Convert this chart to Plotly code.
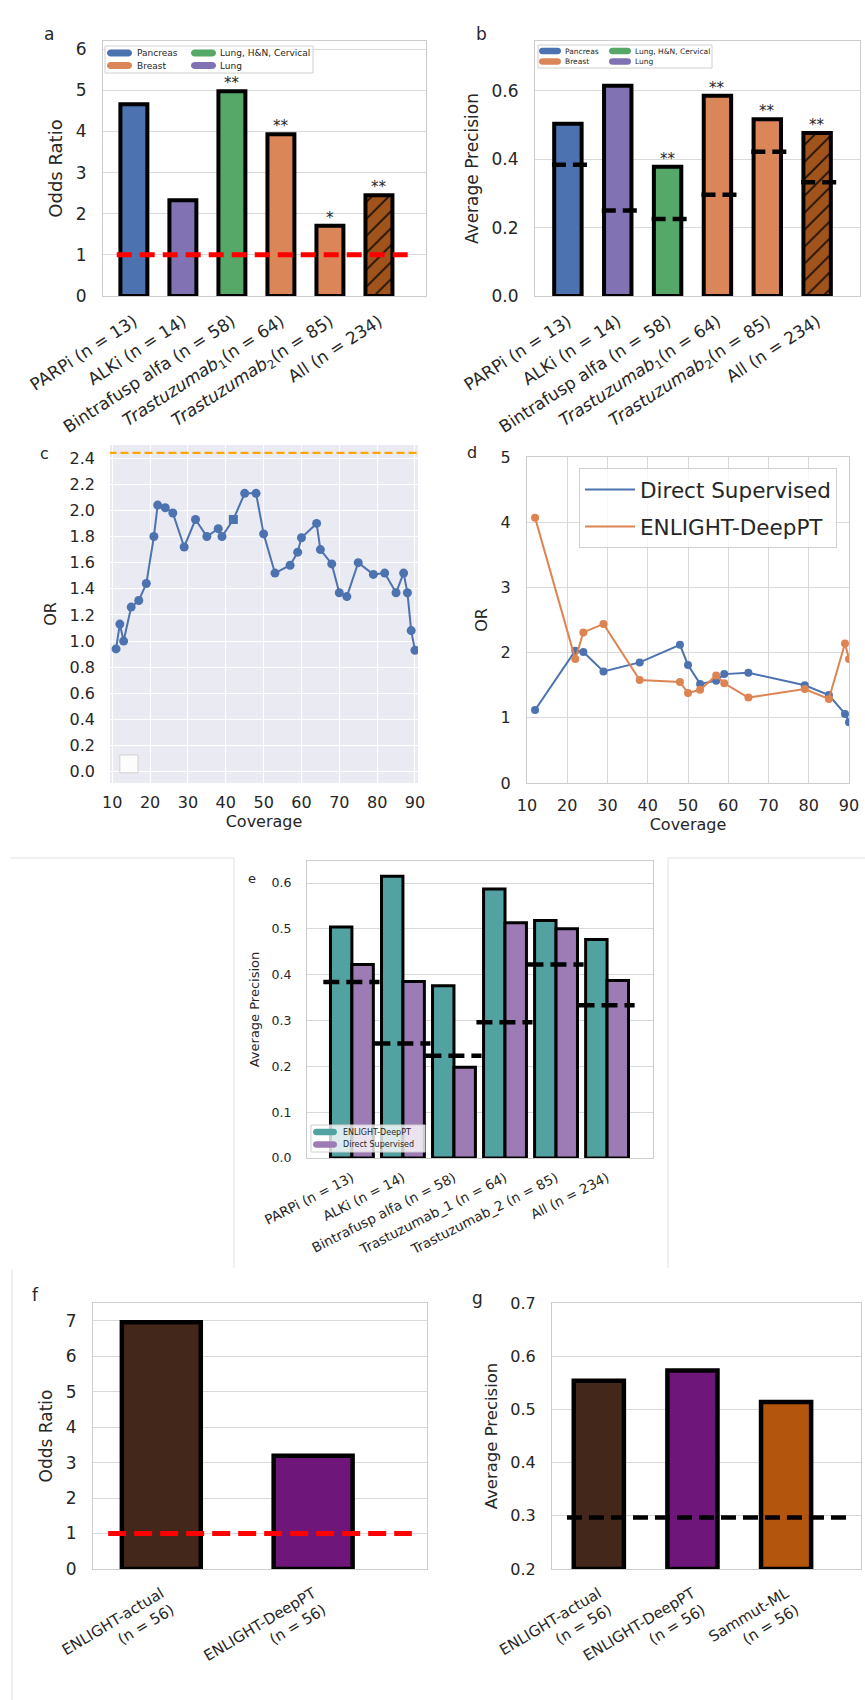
import math
import plotly.graph_objects as go

W, H = 865, 1700

# ---------------- data ----------------
labels_ab = ["PARPi (n = 13)", "ALKi (n = 14)", "Bintrafusp alfa (n = 58)",
             "<i>Trastuzumab</i><sub>1</sub>(n = 64)",
             "<i>Trastuzumab</i><sub>2</sub>(n = 85)", "All (n = 234)"]
cancer_ab = ["Pancreas", "Lung", "Lung, H&N, Cervical", "Breast", "Breast", "All"]
odds_ratio_a = [4.66, 2.33, 4.98, 3.93, 1.71, 2.45]
signif_a = ["", "", "**", "**", "*", "**"]
or_baseline = 1.0

avg_prec_b = [0.504, 0.615, 0.378, 0.586, 0.517, 0.477]
random_ap_b = [0.384, 0.250, 0.225, 0.296, 0.422, 0.333]
signif_b = ["", "", "**", "**", "**", "**"]

coverage_c = [11, 12, 13, 15, 17, 19, 21, 22, 24, 26, 29, 32, 35, 38, 39, 42, 45, 48,
              50, 53, 57, 59, 60, 64, 65, 68, 70, 72, 75, 79, 82, 85, 87, 88, 89, 90]
or_c = [0.94, 1.13, 1.00, 1.26, 1.31, 1.44, 1.80, 2.04, 2.02, 1.98, 1.72, 1.93, 1.80, 1.86,
        1.80, 1.93, 2.13, 2.13, 1.82, 1.52, 1.58, 1.68, 1.79, 1.90, 1.70, 1.59, 1.37, 1.34,
        1.60, 1.51, 1.52, 1.37, 1.52, 1.37, 1.08, 0.93]
highlight_cov_c = 42
or_actual_c = 2.44

coverage_d = [12, 22, 24, 29, 38, 48, 50, 53, 57, 59, 65, 79, 85, 89, 90]
or_direct_d = [1.12, 2.03, 2.01, 1.71, 1.85, 2.12, 1.81, 1.52, 1.57, 1.67, 1.69, 1.50, 1.35, 1.06, 0.93]
or_deeppt_d = [4.07, 1.90, 2.31, 2.44, 1.58, 1.55, 1.38, 1.43, 1.65, 1.53, 1.31, 1.44, 1.29, 2.14, 1.90]

labels_e = ["PARPi (n = 13)", "ALKi (n = 14)", "Bintrafusp alfa (n = 58)",
            "Trastuzumab_1 (n = 64)", "Trastuzumab_2 (n = 85)", "All (n = 234)"]
ap_deeppt_e = [0.504, 0.615, 0.376, 0.587, 0.518, 0.477]
ap_direct_e = [0.422, 0.385, 0.198, 0.513, 0.500, 0.387]
random_ap_e = [0.384, 0.250, 0.223, 0.296, 0.422, 0.333]

labels_f = ["ENLIGHT-actual<br>(n = 56)", "ENLIGHT-DeepPT<br>(n = 56)"]
odds_ratio_f = [6.96, 3.19]

labels_g = ["ENLIGHT-actual<br>(n = 56)", "ENLIGHT-DeepPT<br>(n = 56)", "Sammut-ML<br>(n = 56)"]
avg_prec_g = [0.554, 0.573, 0.514]
random_ap_g = 0.297

# ---------------- styles ----------------
FONT = "DejaVu Sans"
TXT = "#262626"
GRID = "#d9d9d9"
SPINE = "#cccccc"
cancer_colors = {"Pancreas": "#4C72B0", "Lung": "#8172B3", "Lung, H&N, Cervical": "#55A868",
                 "Breast": "#DA8658", "All": "#A0541C"}
TEAL = "#53a2a2"
LILAC = "#9d7bb4"
F_COLORS = ["#43271a", "#6e1679", "#b4550e"]


def xd(a, b):
    return [a / W, b / W]


def yd(top, bottom):
    return [1 - bottom / H, 1 - top / H]


fig = go.Figure()


def seg_trace(centers, values, lo, hi, xa, ya, color, width, dash):
    xs, ys = [], []
    for c, v in zip(centers, values):
        xs += [c + lo, c + hi, None]
        ys += [v, v, None]
    return go.Scatter(x=xs, y=ys, mode="lines", xaxis=xa, yaxis=ya, showlegend=False,
                      line=dict(color=color, width=width, dash=dash), hoverinfo="skip")


def cancer_bars(values, xa, ya):
    """Solid bars for single cancer types, hatched bar for the pooled 'All' group."""
    solid = [i for i, c in enumerate(cancer_ab) if c != "All"]
    pooled = [i for i, c in enumerate(cancer_ab) if c == "All"]
    fig.add_trace(go.Bar(x=solid, y=[values[i] for i in solid], width=0.55, xaxis=xa, yaxis=ya,
                         showlegend=False,
                         marker=dict(color=[cancer_colors[cancer_ab[i]] for i in solid],
                                     line=dict(color="black", width=4))))
    fig.add_trace(go.Bar(x=pooled, y=[values[i] for i in pooled], width=0.55, xaxis=xa, yaxis=ya,
                         showlegend=False,
                         marker=dict(color=cancer_colors["All"], line=dict(color="black", width=4),
                                     pattern=dict(shape="/", fillmode="overlay", fgcolor="black",
                                                  bgcolor=cancer_colors["All"], fgopacity=1,
                                                  size=12, solidity=0.12))))


# ---- panel a ----
idx_a = list(range(len(labels_ab)))
cancer_bars(odds_ratio_a, "x", "y")
n_a = len(labels_ab)
fig.add_trace(go.Scatter(x=[-0.35, n_a - 1 + 0.63], y=[or_baseline, or_baseline], mode="lines",
                         xaxis="x", yaxis="y", showlegend=False,
                         line=dict(color="red", width=5, dash="15px,8px")))

# ---- panel b ----
cancer_bars(avg_prec_b, "x2", "y2")
fig.add_trace(seg_trace(idx_a, random_ap_b, -0.32, 0.45, "x2", "y2", "black", 4.5, "14px,7px"))

# ---- panel c ----
fig.add_trace(go.Scatter(x=coverage_c, y=or_c, mode="lines+markers", xaxis="x3", yaxis="y3",
                         showlegend=False, line=dict(color="#4C72B0", width=2),
                         marker=dict(size=9, color="#4C72B0",
                                     symbol=["square" if c == highlight_cov_c else "circle" for c in coverage_c])))
fig.add_trace(go.Scatter(x=[coverage_c[0] - 2, coverage_c[-1] + 1], y=[or_actual_c, or_actual_c],
                         mode="lines", xaxis="x3", yaxis="y3", showlegend=False,
                         line=dict(color="#FFA500", width=2.2, dash="8px,4px")))

# ---- panel d ----
fig.add_trace(go.Scatter(x=coverage_d, y=or_direct_d, mode="lines+markers", xaxis="x4", yaxis="y4",
                         showlegend=False, line=dict(color="#4C72B0", width=2),
                         marker=dict(size=8, color="#4C72B0")))
fig.add_trace(go.Scatter(x=coverage_d, y=or_deeppt_d, mode="lines+markers", xaxis="x4", yaxis="y4",
                         showlegend=False, line=dict(color="#DD8452", width=2),
                         marker=dict(size=8, color="#DD8452")))
fig.add_trace(go.Scatter(x=[None], y=[None], mode="lines", xaxis="x4", yaxis="y4", name="Direct Supervised",
                         legendgroup="g1", line=dict(color="#4C72B0", width=2)))
fig.add_trace(go.Scatter(x=[None], y=[None], mode="lines", xaxis="x4", yaxis="y4", name="ENLIGHT-DeepPT",
                         legendgroup="g2", line=dict(color="#DD8452", width=2)))

# ---- panel e ----
idx_e = list(range(len(labels_e)))
fig.add_trace(go.Bar(x=idx_e, y=ap_deeppt_e, width=0.42, offset=-0.42, xaxis="x5", yaxis="y5",
                     showlegend=False, marker=dict(color=TEAL, line=dict(color="black", width=3))))
fig.add_trace(go.Bar(x=idx_e, y=ap_direct_e, width=0.42, offset=0.0, xaxis="x5", yaxis="y5",
                     showlegend=False, marker=dict(color=LILAC, line=dict(color="black", width=3))))
fig.add_trace(seg_trace(idx_e, random_ap_e, -0.56, 0.54, "x5", "y5", "black", 4.5, "16px,7px"))

# ---- panel f ----
idx_f = list(range(len(labels_f)))
fig.add_trace(go.Bar(x=idx_f, y=odds_ratio_f, width=0.52, xaxis="x6", yaxis="y6", showlegend=False,
                     marker=dict(color=F_COLORS[:len(idx_f)], line=dict(color="black", width=4.5))))
fig.add_trace(go.Scatter(x=[-0.35, len(idx_f) - 1 + 0.65], y=[or_baseline, or_baseline], mode="lines",
                         xaxis="x6", yaxis="y6", showlegend=False,
                         line=dict(color="red", width=5, dash="18px,8px")))

# ---- panel g ----
idx_g = list(range(len(labels_g)))
g_floor = 0.2
fig.add_trace(go.Bar(x=idx_g, y=[v - g_floor for v in avg_prec_g], base=g_floor, width=0.535,
                     xaxis="x7", yaxis="y7", showlegend=False,
                     marker=dict(color=F_COLORS[:len(idx_g)], line=dict(color="black", width=4.5))))
fig.add_trace(go.Scatter(x=[-0.34, len(idx_g) - 1 + 0.66], y=[random_ap_g, random_ap_g], mode="lines",
                         xaxis="x7", yaxis="y7", showlegend=False,
                         line=dict(color="black", width=4.5, dash="15px,7px")))


# ---------------- axes ----------------
def frame_axis(domain, rng, anchor, size, grid=False, **kw):
    d = dict(domain=domain, range=rng, anchor=anchor, showline=True, mirror=True, linecolor=SPINE,
             linewidth=1.2, showgrid=grid, gridcolor=GRID, gridwidth=1, zeroline=False, ticks="",
             tickfont=dict(size=size, color=TXT, family=FONT), automargin=False,
             ticklabeloverflow="allow")
    d.update(kw)
    return d


def ytitle(text, size, standoff):
    return dict(text=text, font=dict(size=size, color=TXT, family=FONT), standoff=standoff)


ANG_AB = -33
ANG_FG = -31
fig.update_layout(
    xaxis=frame_axis(xd(103, 426), [-0.63, 5.96], "y", 17, tickvals=idx_a, ticktext=labels_ab,
                     tickangle=ANG_AB, ticklabelstandoff=8),
    yaxis=frame_axis(yd(41, 296), [0, 6.2], "x", 17, grid=True, dtick=1, tick0=0,
                     title=ytitle("Odds Ratio", 18, 8), ticklabelstandoff=12),
    xaxis2=frame_axis(xd(535, 860), [-0.66, 5.86], "y2", 17, tickvals=idx_a, ticktext=labels_ab,
                      tickangle=ANG_AB, ticklabelstandoff=8),
    yaxis2=frame_axis(yd(41, 296), [0, 0.746], "x2", 17, grid=True, dtick=0.2, tick0=0, tickformat=".1f",
                      title=ytitle("Average Precision", 17, 8), ticklabelstandoff=12),
    xaxis3=dict(domain=xd(110, 418), range=[9.4, 90.8], anchor="y3", showline=False, showgrid=True,
                gridcolor="white", gridwidth=1.3, zeroline=False, ticks="", dtick=10, tick0=10,
                tickfont=dict(size=16, color=TXT, family=FONT), ticklabelstandoff=8,
                ticklabeloverflow="allow", title=ytitle("Coverage", 16, 4)),
    yaxis3=dict(domain=yd(445, 783), range=[-0.086, 2.5], anchor="x3", showline=False, showgrid=True,
                gridcolor="white", gridwidth=1.3, zeroline=False, ticks="", dtick=0.2, tick0=0,
                tickformat=".1f", tickfont=dict(size=16, color=TXT, family=FONT), ticklabelstandoff=14,
                title=ytitle("OR", 16, 8)),
    xaxis4=frame_axis(xd(527, 849), [10, 90], "y4", 16, grid=True, dtick=10, tick0=10,
                      ticklabelstandoff=8, title=ytitle("Coverage", 16, 4)),
    yaxis4=frame_axis(yd(457, 783), [0, 5], "x4", 16, grid=True, dtick=1, tick0=0,
                      ticklabelstandoff=12, title=ytitle("OR", 16, 8)),
    xaxis5=frame_axis(xd(307, 653), [-0.88, 5.9], "y5", 13.5, tickvals=idx_e, ticktext=labels_e,
                      tickangle=-27, ticklabelstandoff=6),
    yaxis5=frame_axis(yd(861, 1158), [0, 0.648], "x5", 12.5, grid=True, dtick=0.1, tick0=0,
                      tickformat=".1f", title=ytitle("Average Precision", 13, 8), ticklabelstandoff=12),
    xaxis6=frame_axis(xd(93, 427), [-0.45, 1.75], "y6", 15, tickvals=idx_f, ticktext=labels_f,
                      tickangle=ANG_FG, ticklabelstandoff=9),
    yaxis6=frame_axis(yd(1303, 1569), [0, 7.5], "x6", 17, grid=True, dtick=1, tick0=0,
                      title=ytitle("Odds Ratio", 17, 8), ticklabelstandoff=12),
    xaxis7=frame_axis(xd(552, 861), [-0.5, 2.8], "y7", 15, tickvals=idx_g, ticktext=labels_g,
                      tickangle=ANG_FG, ticklabelstandoff=9),
    yaxis7=frame_axis(yd(1303, 1569), [0.2, 0.7], "x7", 16, grid=True, dtick=0.1, tick0=0.2,
                      tickformat=".1f", title=ytitle("Average Precision", 16.5, 8), ticklabelstandoff=12),
)

# ---------------- decorations ----------------
shapes = []
annotations = []

# gray background of panel c
shapes.append(dict(type="rect", xref="x3 domain", yref="y3 domain", x0=0, x1=1, y0=0, y1=1,
                   fillcolor="#EAEAF2", line=dict(width=0), layer="below"))
# empty legend box of panel c
shapes.append(dict(type="rect", xref="x3 domain", yref="y3 domain", x0=0.032, x1=0.091, y0=0.03, y1=0.083,
                   fillcolor="rgba(255,255,255,0.85)", line=dict(color="#d0d0d0", width=1), layer="above"))

# faint sub-figure borders
for (x0, y0, x1, y1) in [(10, 858, 234, 858), (234, 858, 234, 1268), (668, 858, 865, 858),
                         (668, 858, 668, 1268), (12, 1270, 12, 1700)]:
    shapes.append(dict(type="line", xref="paper", yref="paper", x0=x0 / W, x1=x1 / W,
                       y0=1 - y0 / H, y1=1 - y1 / H, line=dict(color="#e2e2e2", width=1)))


def pill_path(w, h, n=10):
    r = h / 2
    pts = []
    for k in range(n + 1):
        a = -math.pi / 2 + math.pi * k / n
        pts.append((w / 2 - r + r * math.cos(a), r * math.sin(a)))
    for k in range(n + 1):
        a = math.pi / 2 + math.pi * k / n
        pts.append((-w / 2 + r + r * math.cos(a), r * math.sin(a)))
    return "M" + " L".join(f"{x:.2f},{y:.2f}" for x, y in pts) + " Z"


def custom_legend(box, entries, fsize, sw, sh):
    bx0, by0, bx1, by1 = box
    shapes.append(dict(type="rect", xref="paper", yref="paper", x0=bx0 / W, x1=bx1 / W,
                       y0=1 - by1 / H, y1=1 - by0 / H, fillcolor="rgba(255,255,255,0.8)",
                       line=dict(color="#d0d0d0", width=1), layer="above"))
    for name, color, cx, cy, tx in entries:
        shapes.append(dict(type="path", xref="paper", yref="paper", xsizemode="pixel", ysizemode="pixel",
                           xanchor=cx / W, yanchor=1 - cy / H, path=pill_path(sw, sh),
                           fillcolor=color, line=dict(width=0), layer="above"))
        annotations.append(dict(text=name, xref="paper", yref="paper", x=tx / W, y=1 - cy / H,
                                xanchor="left", yanchor="middle", showarrow=False,
                                font=dict(size=fsize, color=TXT, family=FONT)))


legend_names = ["Pancreas", "Lung, H&N, Cervical", "Breast", "Lung"]
custom_legend((105, 46, 313, 73), [
    (legend_names[0], cancer_colors[legend_names[0]], 119.5, 53, 135),
    (legend_names[1], cancer_colors[legend_names[1]], 203.5, 53, 218),
    (legend_names[2], cancer_colors[legend_names[2]], 119.5, 65.5, 135),
    (legend_names[3], cancer_colors[legend_names[3]], 203.5, 65.5, 218),
], 9, 25, 7)
custom_legend((538, 45, 712, 68), [
    (legend_names[0], cancer_colors[legend_names[0]], 550, 51, 563),
    (legend_names[1], cancer_colors[legend_names[1]], 620, 51, 633),
    (legend_names[2], cancer_colors[legend_names[2]], 550, 61.5, 563),
    (legend_names[3], cancer_colors[legend_names[3]], 620, 61.5, 633),
], 7.5, 22, 6.5)
custom_legend((311, 1125, 425, 1152), [
    ("ENLIGHT-DeepPT", TEAL, 325, 1132, 341),
    ("Direct Supervised", LILAC, 325, 1144.5, 341),
], 8, 24, 6.5)

# significance stars
for xa, ya, vals, sig in [("x", "y", odds_ratio_a, signif_a), ("x2", "y2", avg_prec_b, signif_b)]:
    for i, (v, s) in enumerate(zip(vals, sig)):
        if s:
            annotations.append(dict(text=s, x=i, y=v, xref=xa, yref=ya, yanchor="bottom", showarrow=False,
                                    yshift=-3, font=dict(size=15, color=TXT, family=FONT)))

# panel letters
for letter, x, y, s in [("a", 49, 34, 17), ("b", 481, 34, 17), ("c", 44, 453, 16), ("d", 472, 452, 16),
                        ("e", 252, 878, 13), ("f", 35, 1295, 17), ("g", 477, 1298, 17)]:
    annotations.append(dict(text=letter, xref="paper", yref="paper", x=x / W, y=1 - y / H,
                            xanchor="center", yanchor="middle", showarrow=False,
                            font=dict(size=s, color=TXT, family=FONT)))

fig.update_layout(
    width=W, height=H, margin=dict(l=0, r=0, t=0, b=0), template="none",
    paper_bgcolor="white", plot_bgcolor="white", barmode="overlay",
    font=dict(family=FONT, color=TXT),
    shapes=shapes, annotations=annotations,
    showlegend=True,
    legend=dict(x=837 / W, y=1 - 468 / H, xanchor="right", yanchor="top",
                bgcolor="rgba(255,255,255,0.8)", bordercolor="#d0d0d0", borderwidth=1,
                font=dict(size=21.5, color=TXT, family=FONT), itemwidth=50, tracegroupgap=6),
)

fig.write_html("out.html", config={"displayModeBar": False},
               post_script="document.body.style.margin='0';document.body.style.overflow='hidden';")
